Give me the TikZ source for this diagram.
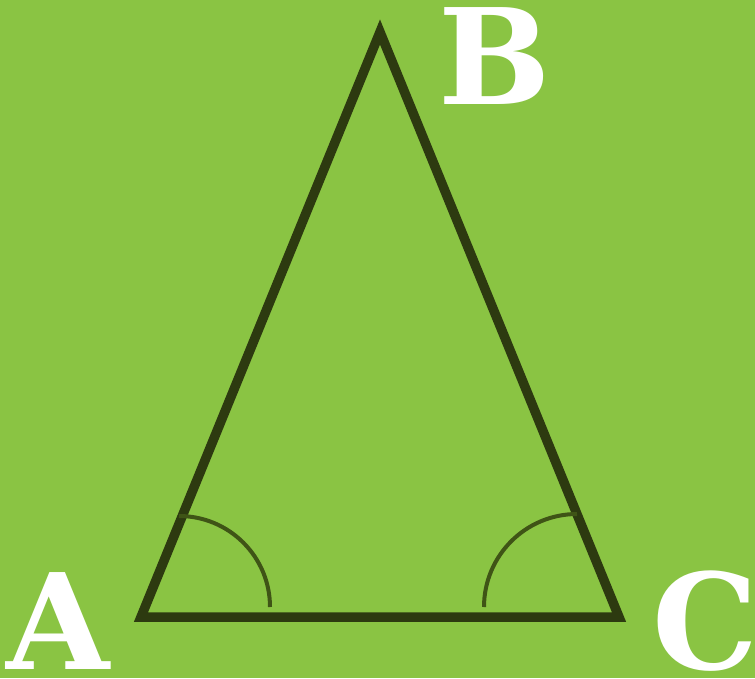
\documentclass[tikz,border=0pt]{standalone}
\usepackage{fontspec}
\setmainfont{DejaVu Serif}
\definecolor{bggreen}{HTML}{8AC443}
\definecolor{olive}{HTML}{2D3A10}
\definecolor{arcolive}{HTML}{3F5416}
\tikzset{
  side/.style={draw=olive, line width=9.5pt, line join=miter},
  anglearc/.style={draw=arcolive, line width=4pt},
  vlabel/.style={text=white, font=\bfseries\fontsize{133}{133}\selectfont, anchor=base, inner sep=0pt}
}
\begin{document}
\begin{tikzpicture}[x=1pt,y=-1pt]
  \fill[bggreen] (0,0) rectangle (755,678);
  \useasboundingbox (0,0) rectangle (755,678);
  \coordinate (A) at (141,617);
  \coordinate (B) at (380,32);
  \coordinate (C) at (619,617);
  \draw[side] (A) -- (B) -- (C) -- cycle;
  \coordinate (aA) at (270,607);
  \coordinate (aC) at (484,607);
  \draw[anglearc] (aA) arc[start angle=0, end angle=-90, radius=91];
  \draw[anglearc] (aC) arc[start angle=180, end angle=270, radius=93];
  \node[vlabel] (lA) at (58,669) {A};
  \node[vlabel] (lB) at (495,104) {B};
  \node[vlabel] (lC) at (705,669) {C};
\end{tikzpicture}
\end{document}
